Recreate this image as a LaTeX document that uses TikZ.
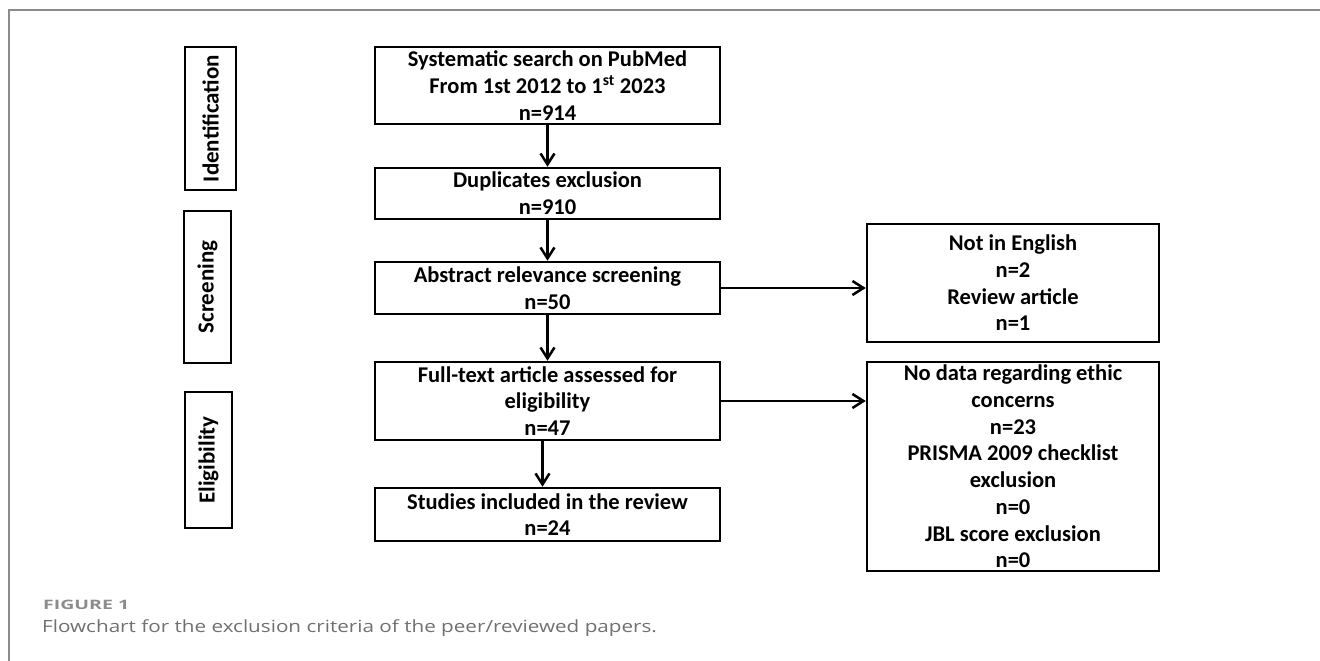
\documentclass[tikz,border=0pt]{standalone}
\usepackage{fontspec}
\setmainfont{Carlito}
\newfontfamily\capfont{Open Sans}[FakeStretch=1.23]
\newfontfamily\labfont{Open Sans}[FakeStretch=1.5]
\usetikzlibrary{arrows.meta}
\definecolor{framegray}{HTML}{8C8C8C}
\definecolor{capgray}{HTML}{707070}
\tikzset{
  stage/.style={draw,line width=2.5pt,minimum width=345pt,align=center,inner sep=0pt,
                font=\fontsize{22.5}{26.7}\selectfont\bfseries},
  excl/.style={stage,minimum width=292pt},
  phase/.style={draw,line width=2.5pt,rotate=90,inner sep=0pt,
                font=\fontsize{23}{26}\selectfont\bfseries},
  arr/.style={line width=2.5pt,-{Straight Barb[length=11pt,width=14pt]}},
  every picture/.style={line join=miter}}
\begin{document}
\begin{tikzpicture}[x=1pt,y=-1pt]
  \useasboundingbox (0,0) rectangle (1320,661);
  \draw[framegray,line width=1.5pt] (9,661)--(9,10)--(1320,10);
  % phase labels
  \node[phase,minimum width=143pt,minimum height=51pt] (p1) at (210.5,118.5){Identification};
  \node[phase,minimum width=152pt,minimum height=47pt] (p2) at (207.5,287){Screening};
  \node[phase,minimum width=136pt,minimum height=47pt] (p3) at (208.5,460){Eligibility};
  % main flow
  \node[stage,minimum height=77pt] (b1) at (547.5,85.5){Systematic search on PubMed\\From 1st 2012 to 1\textsuperscript{st} 2023\\n=914};
  \node[stage,minimum height=51pt] (b2) at (547.5,193.5){Duplicates exclusion\\n=910};
  \node[stage,minimum height=52pt] (b3) at (547.5,288){Abstract relevance screening\\n=50};
  \node[stage,minimum height=78pt] (b4) at (547.5,401){Full-text article assessed for\\eligibility\\n=47};
  \node[stage,minimum height=53pt] (b5) at (547.5,514.5){Studies included in the review\\n=24};
  \node[excl,minimum height=118pt] (x1) at (1013,283){Not in English\\n=2\\Review article\\n=1};
  \node[excl,minimum height=209pt] (x2) at (1013,466.5){No data regarding ethic\\concerns\\n=23\\PRISMA 2009 checklist\\exclusion\\n=0\\JBL score exclusion\\n=0};
  \draw[arr] (b1)--(b2);
  \draw[arr] (b2)--(b3);
  \draw[arr] (b3)--(b4);
  \draw[arr] ([xshift=-5pt]b4.south)--([xshift=-5pt]b5.north);
  \draw[arr] (b3.east)--(b3.east -| x1.west);
  \draw[arr] (b4.east)--(b4.east -| x2.west);
  % caption
  \node[anchor=west,inner sep=0pt,text=framegray,font=\labfont\bfseries\fontsize{13}{15}\selectfont] (figlab) at (43,605){FIGURE 1};
  \node[anchor=west,inner sep=0pt,text=capgray,font=\capfont\fontsize{16.8}{19}\selectfont] (figcap) at (42,628){Flowchart for the exclusion criteria of the peer/reviewed papers.};
\end{tikzpicture}
\end{document}
